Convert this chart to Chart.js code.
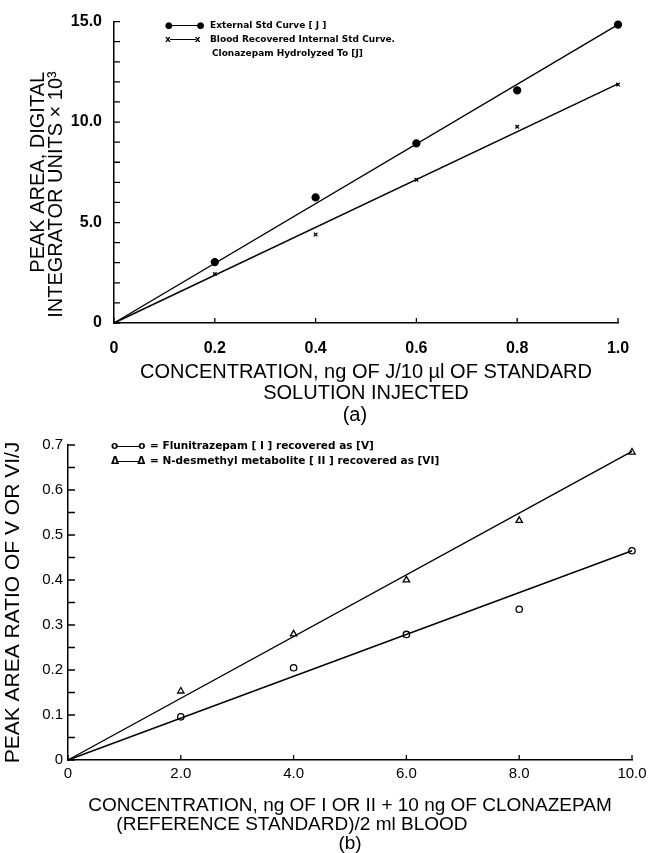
<!DOCTYPE html>
<html>
<head>
<meta charset="utf-8">
<script src="https://cdn.jsdelivr.net/npm/chart.js@4.4.1/dist/chart.umd.min.js"></script>
<style>
    body { margin: 0; background: #fff; width: 656px; height: 853px; position: relative; overflow: hidden; }
    .bloc { position: absolute; left: 0; width: 656px; }
    #bloc-a { top: 0; height: 430px; }
    #bloc-b { top: 430px; height: 423px; }
    .legende { position: absolute; font-family: "DejaVu Sans", sans-serif; font-weight: bold; color: #000; white-space: nowrap; }
    #legende-a { left: 165px; top: 18px; font-size: 9px; line-height: 14px; }
    #legende-b { left: 111px; top: 438px; font-size: 10.5px; line-height: 15px; }
    .trait { display: inline-block; width: 26px; border-top: 1.4px solid #000; vertical-align: middle; margin: 0 -1px; }
    .sym { display: inline-block; width: 45px; }
    .suite { padding-left: 47px; }
</style>
</head>
<body>
<div class="bloc" id="bloc-a"><canvas id="graphique-a"></canvas></div>
<div class="bloc" id="bloc-b"><canvas id="graphique-b"></canvas></div>

<div class="legende" id="legende-a">
    <div><span class="sym">●<span class="trait"></span>●</span>External Std Curve [ J ]</div>
    <div><span class="sym">x<span class="trait"></span>x</span>Blood Recovered Internal Std Curve.</div>
    <div class="suite">Clonazepam Hydrolyzed To [J]</div>
</div>
<div class="legende" id="legende-b">
    <div><span class="sym" style="width:39px">o<span class="trait" style="width:22px"></span>o</span>= Flunitrazepam [ I ] recovered as [V]</div>
    <div><span class="sym" style="width:39px">Δ<span class="trait" style="width:20px"></span>Δ</span>= N-desmethyl metabolite [ II ] recovered as [VI]</div>
</div>

<script>
// (a) concentration, ng of J / 10 µl
const concA = [0.2, 0.4, 0.6, 0.8, 1.0];
const externalStd = [3.03, 6.25, 8.94, 11.58, 14.85];
const bloodRecovered = [2.44, 4.4, 7.13, 9.77, 11.87];
const fitAx = [0, 1.0];
const fitExternal = [0, 14.85];
const fitBlood = [0, 11.9];

// (b) concentration, ng of I or II
const concB = [2, 4, 6, 8, 10];
const flunitrazepam = [0.096, 0.205, 0.279, 0.335, 0.465];
const desmethyl = [0.153, 0.28, 0.4, 0.532, 0.684];
const fitBx = [0, 10];
const fitFlu = [0, 0.465];
const fitDesmethyl = [0, 0.686];

const titreA = ["PEAK AREA, DIGITAL", "INTEGRATOR UNITS \u00d7 10\u00b3        "];
const titreAx = ["CONCENTRATION, ng OF J/10 \u00b5l OF STANDARD", "SOLUTION INJECTED", "(a)    "];
const titreB = "PEAK AREA RATIO OF V OR VI/J";
const titreBx = ["CONCENTRATION, ng OF I OR II + 10 ng OF CLONAZEPAM",
    "(REFERENCE STANDARD)/2 ml BLOOD                      ", "(b)"];

function points(xs, ys) {
    return xs.map((x, i) => ({ x: x, y: ys[i] }));
}

// petits traits vers l'intérieur, comme sur le papier
const ticksInterieurs = {
    id: "ticksInterieurs",
    afterDatasetsDraw(chart, args, opts) {
        const ctx = chart.ctx;
        const area = chart.chartArea;
        ctx.save();
        ctx.strokeStyle = "#000";
        ctx.lineWidth = 1.3;
        ctx.beginPath();
        for (const t of chart.scales.y.ticks) {
            const py = chart.scales.y.getPixelForValue(t.value);
            ctx.moveTo(area.left, py);
            ctx.lineTo(area.left + opts.lenY, py);
        }
        for (const t of chart.scales.x.ticks) {
            const px = chart.scales.x.getPixelForValue(t.value);
            ctx.moveTo(px, area.bottom);
            ctx.lineTo(px, area.bottom - opts.lenX);
        }
        ctx.stroke();
        ctx.restore();
    }
};

function ligne(data) {
    return { data: data, borderColor: "#000", borderWidth: 1.4, pointRadius: 0, showLine: true, clip: false };
}

function nuage(data, style, rayon, rempli) {
    return {
        data: data, showLine: false, clip: false,
        pointStyle: style, pointRadius: rayon,
        borderColor: "#000", borderWidth: 1.3,
        backgroundColor: rempli ? "#000" : "#fff"
    };
}

function axeX(min, max, pas, titre, police, taille, padTick, padTitre, hauteur) {
    return {
        type: "linear", min: min, max: max,
        border: { display: true, color: "#000", width: 1.5 },
        grid: { drawOnChartArea: false, drawTicks: false },
        ticks: {
            stepSize: pas, autoSkip: false, maxRotation: 0, color: "#000", padding: padTick, font: police,
            callback: (v) => v === 0 ? "0" : v.toFixed(1)
        },
        title: {
            display: true, text: titre, color: "#000",
            font: { family: "Liberation Sans", size: taille.size, lineHeight: taille.lh },
            padding: { top: 0, bottom: padTitre }
        },
        afterFit: (scale) => { scale.height = hauteur; }
    };
}

const configA = {
    type: "scatter",
    data: {
        datasets: [
            ligne(points(fitAx, fitExternal)),
            ligne(points(fitAx, fitBlood)),
            nuage(points(concA, externalStd), "circle", 3.5, true),
            nuage(points(concA, bloodRecovered), "crossRot", 2.5, false)
        ]
    },
    options: {
        animation: false, responsive: true, maintainAspectRatio: false,
        layout: { padding: { top: 16, right: 38, left: 0, bottom: 0 } },
        plugins: { legend: { display: false }, tooltip: { enabled: false }, ticksInterieurs: { lenX: 5, lenY: 6 } },
        scales: {
            x: axeX(0, 1.0, 0.2, titreAx, { family: "Liberation Sans", size: 16, weight: "bold" },
                { size: 20, lh: 1.08 }, 16, 4, 107),
            y: {
                type: "linear", min: 0, max: 15,
                border: { display: true, color: "#000", width: 1.5 },
                grid: { drawOnChartArea: false, drawTicks: false },
                ticks: {
                    stepSize: 1, autoSkip: false, color: "#000", padding: 12,
                    font: { family: "Liberation Sans", size: 16, weight: "bold" },
                    callback: (v) => v % 5 === 0 ? (v === 0 ? "0" : v.toFixed(1)) : ""
                },
                title: {
                    display: true, text: titreA, color: "#000",
                    font: { family: "Liberation Sans", size: 20, lineHeight: 0.9 },
                    padding: { top: 29, bottom: 0 }
                },
                afterFit: (scale) => { scale.width = 114; }
            }
        }
    },
    plugins: [ticksInterieurs]
};

const configB = {
    type: "scatter",
    data: {
        datasets: [
            ligne(points(fitBx, fitFlu)),
            ligne(points(fitBx, fitDesmethyl)),
            nuage(points(concB, flunitrazepam), "circle", 3.2, false),
            nuage(points(concB, desmethyl), "triangle", 3.7, false)
        ]
    },
    options: {
        animation: false, responsive: true, maintainAspectRatio: false,
        layout: { padding: { top: 15, right: 24, left: 0, bottom: 0 } },
        plugins: { legend: { display: false }, tooltip: { enabled: false }, ticksInterieurs: { lenX: 5, lenY: 7 } },
        scales: {
            x: axeX(0, 10, 2, titreBx, { family: "Liberation Sans", size: 15 }, { size: 19, lh: 1.0 }, 5, 0, 93),
            y: {
                type: "linear", min: 0, max: 0.7,
                border: { display: true, color: "#000", width: 1.5 },
                grid: { drawOnChartArea: false, drawTicks: false },
                ticks: {
                    stepSize: 0.05, autoSkip: false, color: "#000", padding: 5,
                    font: { family: "Liberation Sans", size: 15 },
                    callback: (v) => {
                        const k = Math.round(v * 20);
                        if (k % 2 !== 0) return "";
                        return k === 0 ? "0" : v.toFixed(1);
                    }
                },
                title: {
                    display: true, text: titreB, color: "#000",
                    font: { family: "Liberation Sans", size: 21, lineHeight: 1.0 },
                    padding: { top: 3, bottom: 0 }
                },
                afterFit: (scale) => { scale.width = 68; }
            }
        }
    },
    plugins: [ticksInterieurs]
};

const graphA = new Chart(document.querySelector("#graphique-a"), configA);
const graphB = new Chart(document.querySelector("#graphique-b"), configB);
</script>
</body>
</html>
